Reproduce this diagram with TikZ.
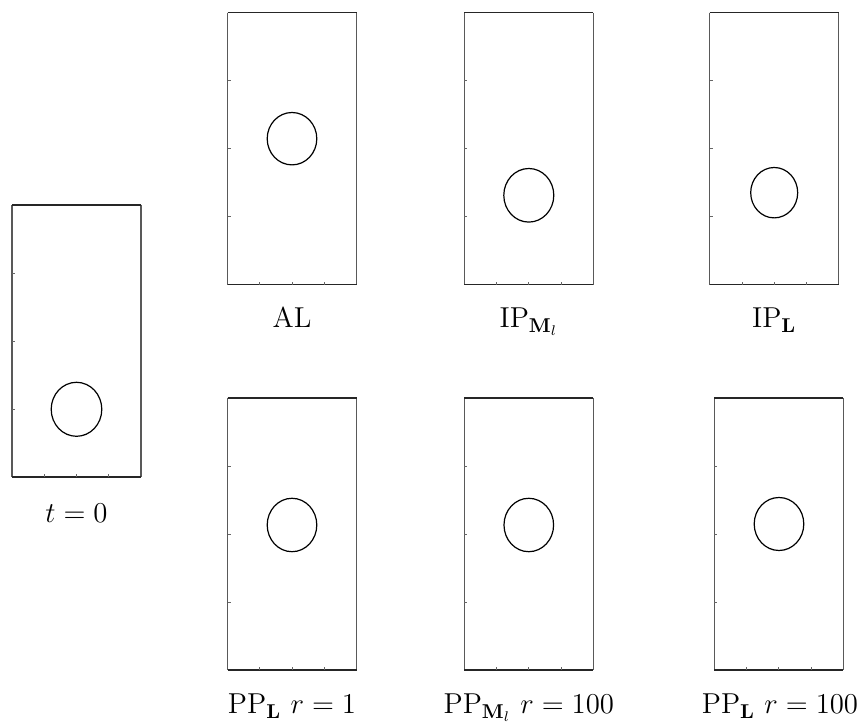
\documentclass[tikz,border=0pt]{standalone}
\usepackage{amsmath}
\begin{document}
\begin{tikzpicture}[x=0.5pt,y=-0.5pt,
  hedge/.style={draw=black!85,line width=0.8pt},
  vedge/.style={draw=black!65,line width=0.55pt},
  tickmark/.style={draw=black!60,line width=0.4pt},
  bubble/.style={draw=black,line width=0.6pt},
  lab/.style={anchor=base,inner sep=0pt,font=\fontsize{14.4}{17}\selectfont}]
\useasboundingbox (0,0) rectangle (868,726);
\newcommand\panel[6]{%
  \draw[vedge] (#1,#2) -- ++(0,272) (#1+129,#2) -- ++(0,272);
  \draw[hedge] (#1,#2) -- ++(129,0) (#1,#2+272) -- ++(129,0);
  \foreach \k in {1,2,3}{
    \draw[tickmark] (#1,#2+68*\k) -- ++(3,0);
    \draw[tickmark] (#1+32.25*\k,#2+272) -- ++(0,-3);
  }
  \draw[bubble] (#3,#4) ellipse [x radius=#5, y radius=#6];
}
% t = 0
\panel{12}{205}{76.5}{409.3}{25.3}{27}
% top row
\panel{227.5}{12.7}{292}{138.7}{24.8}{26.2}
\panel{464.3}{12.7}{528.8}{195.3}{25}{26.8}
\panel{709.7}{12.7}{774.2}{192.7}{23.5}{25.2}
% bottom row
\panel{227.5}{398}{292}{525}{24.8}{26.7}
\panel{464.3}{398}{528.8}{525}{24.8}{26.7}
\panel{714.3}{398}{779}{524}{24.8}{26.5}
% labels
\node[lab] (l0) at (76.5,522.7) {$t=0$};
\node[lab] (l1) at (292,328) {AL};
\node[lab] (l2) at (528.8,328) {$\mathrm{IP}_{\mathbf{M}_l}$};
\node[lab] (l3) at (774.2,328) {$\mathrm{IP}_{\mathbf{L}}$};
\node[lab] (l4) at (292,714) {$\mathrm{PP}_{\mathbf{L}}\ r=1$};
\node[lab] (l5) at (528.8,714) {$\mathrm{PP}_{\mathbf{M}_l}\ r=100$};
\node[lab] (l6) at (780,714) {$\mathrm{PP}_{\mathbf{L}}\ r=100$};
\end{tikzpicture}
\end{document}
